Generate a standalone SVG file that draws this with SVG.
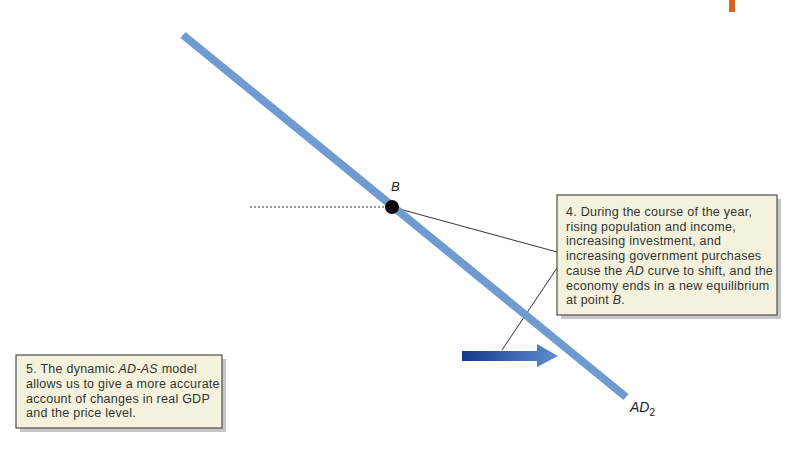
<svg xmlns="http://www.w3.org/2000/svg" width="790" height="449" viewBox="0 0 790 449">
<style>
.note{font-family:"Liberation Sans",Arial,sans-serif;font-size:12.5px;letter-spacing:0.25px;fill:#333}
.box{fill:#f4f2dc;stroke:#5a5a5a;stroke-width:1.3}
.shadow{fill:#a0a0a0;opacity:0.6}
.lbl{font-family:"Liberation Sans",Arial,sans-serif;font-style:italic;fill:#222}
</style>
<defs>
<linearGradient id="arrowGrad" x1="0" y1="0" x2="1" y2="0">
<stop offset="0" stop-color="#16378a"/>
<stop offset="1" stop-color="#5d8fd0"/>
</linearGradient>
</defs>
<rect width="790" height="449" fill="#fff"/>
<rect x="729" y="0" width="6" height="12" fill="#d8621a"/>
<g id="connectors">
<line x1="250" y1="207" x2="386" y2="207" stroke="#333" stroke-width="1" stroke-dasharray="2,2"/>
<line x1="392" y1="207" x2="557" y2="252" stroke="#333" stroke-width="1"/>
<line x1="502" y1="350" x2="557" y2="268" stroke="#333" stroke-width="1"/>
</g>
<g id="AD2-curve">
<line x1="183" y1="35" x2="626" y2="397" stroke="#6f9bd1" stroke-width="8"/>
<text class="lbl" x="630" y="412" font-size="14">AD<tspan font-style="normal" font-size="10" dy="4">2</tspan></text>
</g>
<g id="point-B">
<circle cx="392" cy="207" r="7" fill="#0a0a0a"/>
<text class="lbl" x="391" y="191" font-size="13">B</text>
</g>
<g id="shift-arrow">
<polygon points="462,351 537,351 537,344 558,356 537,367 537,361 462,361" fill="url(#arrowGrad)"/>
</g>
<g id="note-4">
<rect class="shadow" x="561" y="199" width="220" height="120"/>
<rect class="box" x="557" y="195" width="220" height="120"/>
<text class="note">
<tspan x="566" y="216">4.  During the course of the year,</tspan>
<tspan x="566" y="230.7">rising population and income,</tspan>
<tspan x="566" y="245.4">increasing investment, and</tspan>
<tspan x="566" y="260.1">increasing government purchases</tspan>
<tspan x="566" y="274.8">cause the <tspan font-style="italic">AD</tspan> curve to shift, and the</tspan>
<tspan x="566" y="289.5">economy ends in a new equilibrium</tspan>
<tspan x="566" y="304.2">at point <tspan font-style="italic">B</tspan>.</tspan>
</text>
</g>
<g id="note-5">
<rect class="shadow" x="20" y="359" width="206" height="73"/>
<rect class="box" x="16" y="355" width="206" height="73"/>
<text class="note">
<tspan x="26" y="373">5.  The dynamic <tspan font-style="italic">AD-AS</tspan> model</tspan>
<tspan x="26" y="388">allows us to give a more accurate</tspan>
<tspan x="26" y="403">account of changes in real GDP</tspan>
<tspan x="26" y="417">and the price level.</tspan>
</text>
</g>
</svg>
